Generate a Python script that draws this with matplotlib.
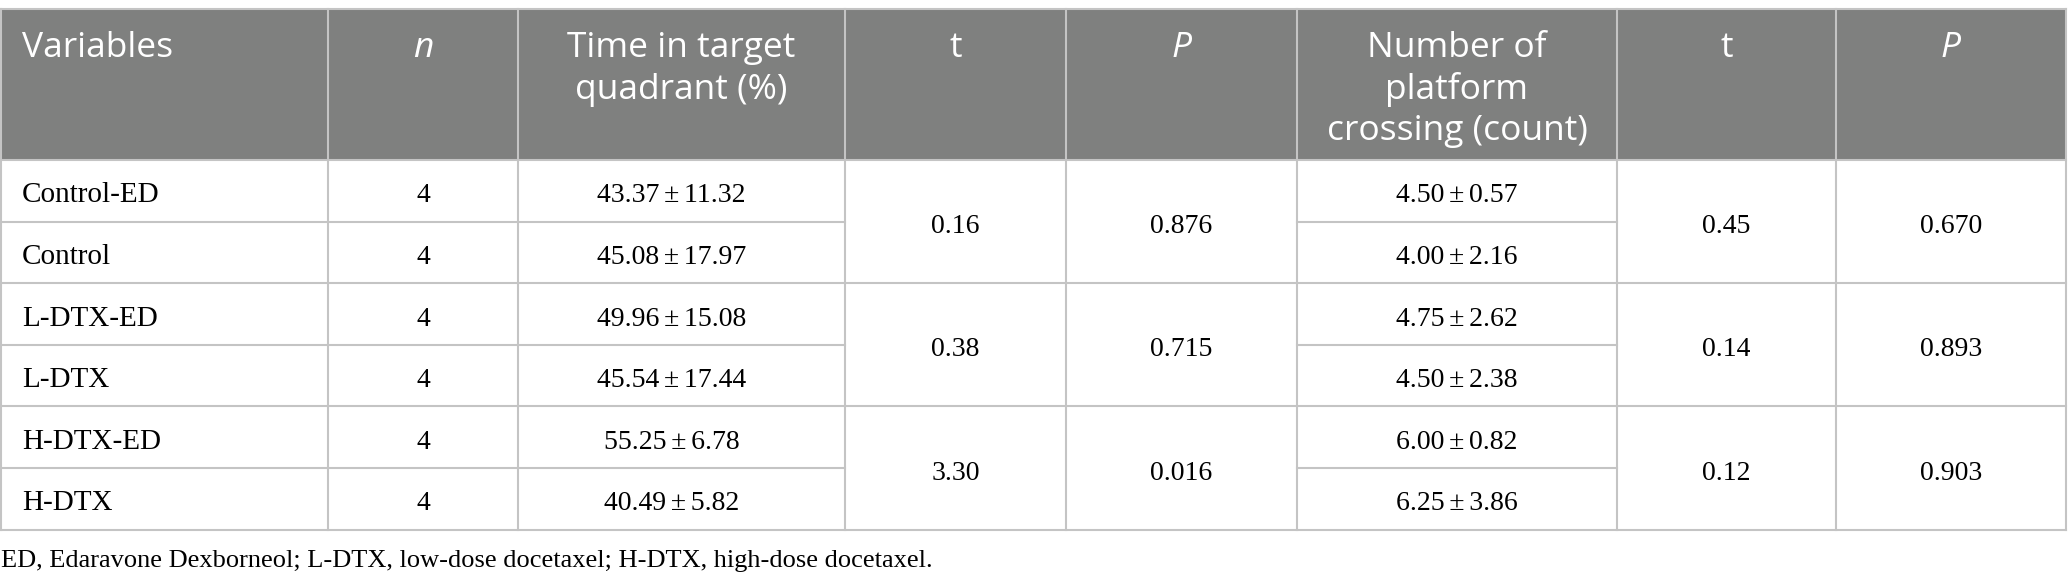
import matplotlib.pyplot as plt

# Table content
groups = ['Control-ED', 'Control', 'L-DTX-ED', 'L-DTX', 'H-DTX-ED', 'H-DTX']
n_values = [4, 4, 4, 4, 4, 4]
time_mean = [43.37, 45.08, 49.96, 45.54, 55.25, 40.49]
time_sd = [11.32, 17.97, 15.08, 17.44, 6.78, 5.82]
cross_mean = [4.50, 4.00, 4.75, 4.50, 6.00, 6.25]
cross_sd = [0.57, 2.16, 2.62, 2.38, 0.82, 3.86]
t_time = ['0.16', '0.38', '3.30']
p_time = ['0.876', '0.715', '0.016']
t_cross = ['0.45', '0.14', '0.12']
p_cross = ['0.670', '0.893', '0.903']
headers = ['Variables', 'n', 'Time in target\nquadrant (%)', 't', 'P',
           'Number of\nplatform\ncrossing (count)', 't', 'P']
header_italic = [False, True, False, False, True, False, False, True]
footnote = 'ED, Edaravone Dexborneol; L-DTX, low-dose docetaxel; H-DTX, high-dose docetaxel.'

# Layout in pixels
W, H = 2068, 585
col_edges = [1, 328, 518, 845, 1066, 1297, 1617, 1836, 2066]
table_top = 9
header_bottom = 160
row_h = 61.6
grid_color = '#c4c4c4'
header_bg = '#7f807f'

sans = ['Open Sans', 'DejaVu Sans']
serif = ['Liberation Serif', 'DejaVu Serif']
fs_head = 25.5
fs_body = 21
fs_num = 20
pm = '\u200a\u200a±\u200a\u200a'

fig = plt.figure(figsize=(W / 100, H / 100), dpi=100)
ax = fig.add_axes([0, 0, 1, 1])
ax.set_xlim(0, W)
ax.set_ylim(H, 0)
ax.axis('off')

# Header background
ax.add_patch(plt.Rectangle((col_edges[0], table_top), col_edges[-1] - col_edges[0],
                           header_bottom - table_top, facecolor=header_bg,
                           edgecolor='none', zorder=1))

# Header text, one line at a time
for i, label in enumerate(headers):
    left, right = col_edges[i], col_edges[i + 1]
    for k, line in enumerate(label.split('\n')):
        y = 57 + k * 41.6
        if i == 0:
            ax.text(left + 21, y, line, ha='left', va='baseline', color='white',
                    fontsize=fs_head, family=sans, zorder=3)
        else:
            ax.text((left + right) / 2, y, line, ha='center', va='baseline',
                    color='white', fontsize=fs_head, family=sans,
                    style='italic' if header_italic[i] else 'normal', zorder=3)

# Body
body_top = header_bottom
n_rows = len(groups)
for r in range(n_rows):
    y = body_top + (r + 0.5) * row_h + 11.7
    ax.text(col_edges[0] + 21, y, groups[r], ha='left', va='baseline',
            fontsize=fs_body, family=serif, zorder=3)
    ax.text((col_edges[1] + col_edges[2]) / 2, y, str(n_values[r]), ha='center',
            va='baseline', fontsize=fs_num, family=serif, zorder=3)
    ax.text((col_edges[2] + col_edges[3]) / 2 - 10, y,
            '{:.2f}{}{:.2f}'.format(time_mean[r], pm, time_sd[r]),
            ha='center', va='baseline', fontsize=fs_num, family=serif, zorder=3)
    ax.text((col_edges[5] + col_edges[6]) / 2, y,
            '{:.2f}{}{:.2f}'.format(cross_mean[r], pm, cross_sd[r]),
            ha='center', va='baseline', fontsize=fs_num, family=serif, zorder=3)

# Merged cells (two rows per pair)
for g in range(len(t_time)):
    y = body_top + (2 * g + 1) * row_h + 11.7
    for col, vals in [(3, t_time), (4, p_time), (6, t_cross), (7, p_cross)]:
        ax.text((col_edges[col] + col_edges[col + 1]) / 2, y, vals[g], ha='center',
                va='baseline', fontsize=fs_num, family=serif, zorder=3)

# Grid lines
table_bottom = body_top + n_rows * row_h
lw = 1.5
ax.plot([col_edges[0], col_edges[-1]], [table_top, table_top], color=grid_color, lw=lw, zorder=2)
ax.plot([col_edges[0], col_edges[-1]], [header_bottom, header_bottom], color=grid_color, lw=lw, zorder=2)
ax.plot([col_edges[0], col_edges[-1]], [table_bottom, table_bottom], color=grid_color, lw=lw, zorder=2)
for r in range(1, n_rows):
    y = body_top + r * row_h
    if r % 2 == 0:
        ax.plot([col_edges[0], col_edges[-1]], [y, y], color=grid_color, lw=lw, zorder=2)
    else:
        # only the unmerged columns get the inner row line
        ax.plot([col_edges[0], col_edges[3]], [y, y], color=grid_color, lw=lw, zorder=2)
        ax.plot([col_edges[5], col_edges[6]], [y, y], color=grid_color, lw=lw, zorder=2)
for x in col_edges:
    ax.plot([x, x], [table_top, table_bottom], color=grid_color, lw=lw, zorder=2)

# Footnote
ax.text(1, 566.5, footnote, ha='left', va='baseline', fontsize=19, family=serif)

fig.savefig('out.png', dpi=100)
